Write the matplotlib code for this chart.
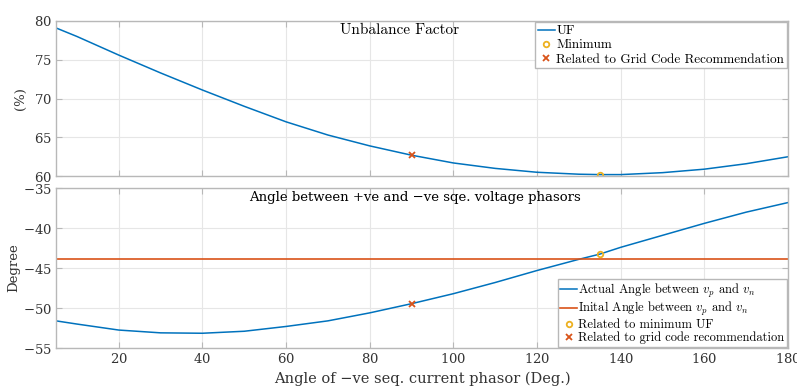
import matplotlib.pyplot as plt

# angle of -ve seq. current phasor (deg)
x_deg = [5, 10, 20, 30, 40, 50, 60, 70, 80, 90, 100, 110, 120, 130, 135, 140, 150, 160, 170, 180]

# unbalance factor (%)
uf = [79.1, 78.0, 75.6, 73.3, 71.1, 69.0, 67.0, 65.3, 63.9, 62.7, 61.7, 61.0, 60.5,
      60.25, 60.2, 60.2, 60.45, 60.9, 61.6, 62.5]

# actual angle between vp and vn (deg)
ang = [-51.6, -52.0, -52.75, -53.1, -53.15, -52.9, -52.3, -51.6, -50.6, -49.45, -48.2,
       -46.8, -45.3, -43.9, -43.25, -42.4, -40.9, -39.4, -38.0, -36.8]

init_ang = -43.8

min_x, min_uf, min_ang = 135, 60.2, -43.25
gc_x, gc_uf, gc_ang = 90, 62.7, -49.45

blue = '#0072BD'
orange = '#D95319'
yellow = '#EDB120'
frame = '#b8b8b8'
txt = '#333333'

plt.rcParams['axes.formatter.use_mathtext'] = True
plt.rcParams['mathtext.fontset'] = 'cm'
tick_font = 'DejaVu Serif'
cm_font = 'cmr10'

fig = plt.figure(figsize=(7.97, 3.88), dpi=100)
ax1 = fig.add_axes([0.0703, 0.546, 0.9184, 0.400])
ax2 = fig.add_axes([0.0703, 0.103, 0.9184, 0.412])


def style(ax):
    ax.set_xlim(5, 180)
    ax.set_xticks([20, 40, 60, 80, 100, 120, 140, 160, 180])
    ax.grid(True, color='#e6e6e6', linewidth=0.8)
    ax.set_axisbelow(True)
    for s in ax.spines.values():
        s.set_color(frame)
        s.set_linewidth(1.0)
    ax.tick_params(direction='in', length=4, color=frame, top=True, right=True,
                   labelsize=9.5, labelcolor=txt, pad=3)
    for lab in ax.get_xticklabels() + ax.get_yticklabels():
        lab.set_family(tick_font)


# top: unbalance factor
ax1.plot(x_deg, uf, color=blue, linewidth=1.1, label='UF')
ax1.plot(min_x, min_uf, 'o', color=yellow, markersize=4, markerfacecolor='none',
         markeredgewidth=1.3, label='Minimum')
ax1.plot(gc_x, gc_uf, 'x', color=orange, markersize=4, markeredgewidth=1.3,
         label='Related to Grid Code Recommendation')
ax1.set_ylim(60, 80)
ax1.set_yticks([60, 65, 70, 75, 80])
style(ax1)
ax1.tick_params(labelbottom=False)
ax1.set_ylabel('(%)', fontsize=9.5, family=tick_font, color=txt)
ax1.yaxis.set_label_coords(-0.040, 0.5)
ax1.text(0.469, 0.985, 'Unbalance Factor', transform=ax1.transAxes, ha='center', va='top',
         fontsize=11, family=cm_font)
leg1 = ax1.legend(loc='upper right', prop={'family': cm_font, 'size': 9.5},
                  handlelength=1.3, handletextpad=0.1, borderpad=0.2, labelspacing=0.15,
                  borderaxespad=0.1, fancybox=False, framealpha=1)
leg1.get_frame().set_edgecolor(frame)

# bottom: angle between +ve and -ve seq. voltage phasors
ax2.plot(x_deg, ang, color=blue, linewidth=1.1, label=r'Actual Angle between $v_p$ and $v_n$')
ax2.axhline(init_ang, color=orange, linewidth=1.2, label=r'Inital Angle between $v_p$ and $v_n$')
ax2.plot(min_x, min_ang, 'o', color=yellow, markersize=4, markerfacecolor='none',
         markeredgewidth=1.3, label='Related to minimum UF')
ax2.plot(gc_x, gc_ang, 'x', color=orange, markersize=4, markeredgewidth=1.3,
         label='Related to grid code recommendation')
ax2.set_ylim(-55, -35)
ax2.set_yticks([-55, -50, -45, -40, -35])
style(ax2)
ax2.set_ylabel('Degree', fontsize=9.5, family=tick_font, color=txt)
ax2.yaxis.set_label_coords(-0.049, 0.5)
ax2.set_xlabel(u'Angle of \u2212ve seq. current phasor (Deg.)', fontsize=10.5,
               family=tick_font, color=txt, labelpad=4)
ax2.text(0.49, 0.985, u'Angle between +ve and \u2212ve sqe. voltage phasors',
         transform=ax2.transAxes, ha='center', va='top', fontsize=9.5, family=tick_font)
leg2 = ax2.legend(loc='lower right', prop={'family': cm_font, 'size': 9},
                  handlelength=1.3, handletextpad=0.1, borderpad=0.2, labelspacing=0.05,
                  borderaxespad=0.1, fancybox=False, framealpha=1)
leg2.get_frame().set_edgecolor(frame)

fig.savefig('out.png', dpi=100)
